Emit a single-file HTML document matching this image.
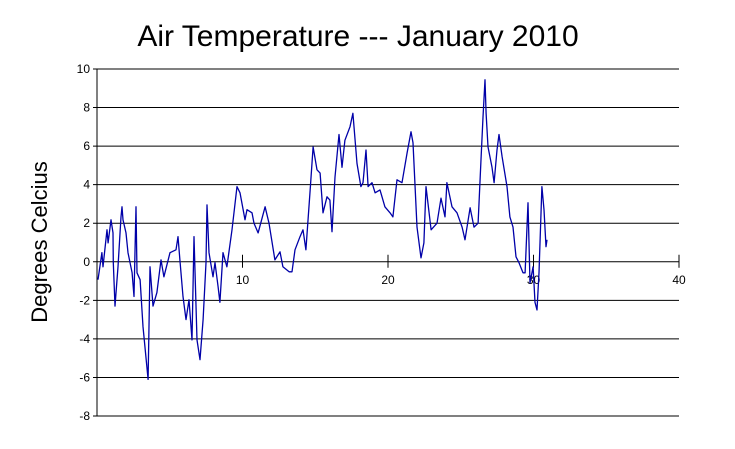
<!DOCTYPE html>
<html><head><meta charset="utf-8"><style>
body{margin:0;background:#fff;}
svg{display:block;font-family:"Liberation Sans",Arial,sans-serif;}
</style></head><body>
<svg id="chart" width="735" height="449" viewBox="0 0 735 449">
<text x="358" y="46" font-size="30" text-anchor="middle">Air Temperature --- January 2010</text>
<text transform="translate(47,242) rotate(-90)" font-size="22" text-anchor="middle">Degrees Celcius</text>
<g id="grid"></g><g id="axes"></g><g id="series"></g>
</svg>
<script>
const days=[0.07,0.34,0.41,0.69,0.76,0.96,1.10,1.12,1.24,1.44,1.65,1.72,1.79,1.99,2.13,2.41,2.54,2.68,2.75,2.96,3.16,3.51,3.64,3.85,4.12,4.40,4.60,5.02,5.43,5.57,5.70,5.91,6.12,6.32,6.53,6.67,6.87,7.08,7.29,7.49,7.56,7.70,7.97,8.11,8.32,8.45,8.66,8.93,9.28,9.62,9.83,10.17,10.31,10.65,10.79,11.07,11.55,11.82,12.23,12.58,12.78,13.20,13.40,13.61,13.95,14.16,14.36,14.67,14.85,15.12,15.33,15.53,15.81,16.01,16.15,16.36,16.63,16.84,17.04,17.39,17.59,17.87,18.14,18.28,18.49,18.63,18.90,19.11,19.45,19.79,20.14,20.34,20.62,20.96,21.31,21.58,21.72,21.99,22.27,22.47,22.61,22.96,23.37,23.64,23.92,24.05,24.40,24.74,25.09,25.29,25.64,25.91,26.19,26.39,26.53,26.67,26.74,26.87,27.15,27.29,27.49,27.63,27.84,28.18,28.38,28.59,28.80,29.00,29.28,29.42,29.62,29.76,29.97,30.10,30.24,30.38,30.58,30.72,30.86,30.93];
const temps=[-0.93,0.47,-0.26,1.66,0.98,2.18,1.5,-0.05,-2.3,-0.26,2.33,2.85,2.18,1.5,0.47,-0.57,-1.8,2.85,-0.57,-0.93,-3.37,-6.1,-0.26,-2.3,-1.6,0.1,-0.78,0.47,0.62,1.3,0.1,-1.8,-3.0,-1.97,-4.05,1.3,-4.05,-5.08,-3.0,-0.05,2.95,0.47,-0.78,-0.05,-1.3,-2.1,0.47,-0.26,1.66,3.9,3.58,2.18,2.7,2.54,2.0,1.5,2.85,2.0,0.1,0.52,-0.26,-0.52,-0.52,0.62,1.3,1.66,0.62,3.9,5.96,4.77,4.6,2.54,3.37,3.2,1.56,4.4,6.6,4.9,6.3,7.0,7.7,5.1,3.9,4.1,5.8,3.9,4.1,3.58,3.73,2.85,2.54,2.33,4.25,4.1,5.65,6.74,6.17,1.8,0.2,0.98,3.9,1.66,2.0,3.3,2.33,4.1,2.85,2.54,1.8,1.14,2.8,1.8,2.0,5.3,7.5,9.44,7.7,5.96,4.9,4.1,5.8,6.6,5.45,3.9,2.33,1.8,0.26,-0.05,-0.57,-0.57,3.06,-1.1,-0.26,-2.1,-2.5,-0.57,3.9,2.7,0.78,1.14];
const yTicks=[10,8,6,4,2,0,-2,-4,-6,-8];
const xTicks=[10,20,30,40];
const NS="http://www.w3.org/2000/svg";
const X0=97,X1=679,Y10=69,Ym8=416;
function xs(d){return X0+(X1-X0)*d/40;}
function ys(v){return Y10+(Ym8-Y10)*(10-v)/18;}
function mk(tag,attrs,parent){const e=document.createElementNS(NS,tag);for(const k in attrs)e.setAttribute(k,attrs[k]);parent.appendChild(e);return e;}
const grid=document.getElementById('grid'),axes=document.getElementById('axes'),series=document.getElementById('series');
yTicks.forEach(v=>{
 const l=mk('line',{x1:X0-4,x2:X1,y1:ys(v),y2:ys(v),stroke:'#000','stroke-width':1},grid);
 
 
 const t=mk('text',{x:X0-7,y:ys(v)+4,'font-size':12,'text-anchor':'end'},axes);
 t.textContent=v;
 
 
});
const ya=mk('line',{x1:X0,x2:X0,y1:Y10,y2:Ym8,stroke:'#000','stroke-width':1},axes);


xTicks.forEach(d=>{
 const tk=mk('line',{x1:xs(d),x2:xs(d),y1:ys(0)-7,y2:ys(0)+6,stroke:'#000','stroke-width':1},axes);
 
 
 const t=mk('text',{x:xs(d),y:ys(0)+22,'font-size':12,'text-anchor':'middle'},axes);
 t.textContent=d;
 
 
});
const pts=days.map((d,i)=>xs(d).toFixed(1)+','+ys(temps[i]).toFixed(1)).join(' ');
const pl=mk('polyline',{points:pts,fill:'none',stroke:'#0000a8','stroke-width':1.3,'stroke-linejoin':'round'},series);


</script>
</body></html>
